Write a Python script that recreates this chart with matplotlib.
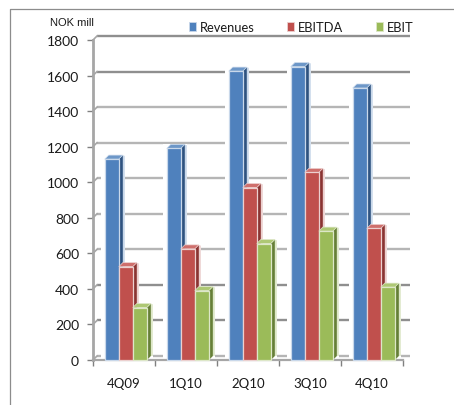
# modules
import matplotlib
matplotlib.use("Agg")
import matplotlib.pyplot as plt
from matplotlib.lines import Line2D
from matplotlib.patches import Polygon, Rectangle

plt.rcParams['font.family'] = ['Lato', 'DejaVu Sans']

# data
quarters = ["4Q09", "1Q10", "2Q10", "3Q10", "4Q10"]
revenues = [1130, 1190, 1625, 1650, 1530]
ebitda   = [525, 625, 970, 1055, 740]
ebit     = [295, 390, 655, 725, 410]
yticks   = [0, 200, 400, 600, 800, 1000, 1200, 1400, 1600, 1800]
dark_grid = [200, 400, 1600, 1800]

# settings
W, H = 454, 406
LEFT, RIGHT, TOP, BOTTOM = 93, 403, 41, 361
DEPTH_PX = 4
BAR_W = 0.226
GROUP_START = 0.19

STYLES = [
    ("Revenues", revenues, "#4f81bd", "#2f5380", "#6d97c8", "#c9d8ea"),
    ("EBITDA",   ebitda,   "#c0504d", "#8a3432", "#cf6f6c", "#ecd0cf"),
    ("EBIT",     ebit,     "#9bbb59", "#667f37", "#aec874", "#dde7c8"),
]

fig = plt.figure(figsize=(W / 100, H / 100), dpi=100, facecolor="white")
ax = fig.add_axes([LEFT / W, 1 - BOTTOM / H, (RIGHT - LEFT) / W, (BOTTOM - TOP) / H])
ax.set_xlim(0, len(quarters))
ax.set_ylim(0, 1800)

# pixel depth in data units
dx = DEPTH_PX / ((RIGHT - LEFT) / len(quarters))
dy = DEPTH_PX / ((BOTTOM - TOP) / 1800)

# back wall gridlines
for t in yticks:
    col = "#8f8f8f" if t in dark_grid else "#b5b5b5"
    ax.plot([dx, len(quarters) + dx * 1.7], [t + dy, t + dy], color=col, lw=1.7,
            solid_capstyle="butt", clip_on=False, zorder=1)
    ax.plot([0, dx], [t, t + dy], color="#a6a6a6", lw=1.2, clip_on=False, zorder=1)

# bars
for i in range(len(quarters)):
    for j, (name, vals, front, side, top, halo) in enumerate(STYLES):
        x0 = i + GROUP_START + j * BAR_W
        x1 = x0 + BAR_W
        v = vals[i]
        # white gap in the gridlines around the bar
        ax.add_patch(Rectangle((x0 - dx, 0), BAR_W + 2.5 * dx, v + dy, fc="white", ec="none",
                               zorder=2 + j * 0.1, clip_on=False))
        ax.add_patch(Polygon([(x1, 0), (x1 + dx, dy), (x1 + dx * 1.5, dy), (x1 + dx * 1.5, v + dy * 0.8), (x1 + dx, v + dy), (x1, v)],
                             fc=halo, ec="none", zorder=3 + j * 0.1, clip_on=False))
        ax.add_patch(Polygon([(x1, 0), (x1 + dx, dy), (x1 + dx, v + dy), (x1, v)],
                             fc=side, ec="none", zorder=3 + j * 0.1, clip_on=False))
        ax.add_patch(Polygon([(x0, v), (x0 + dx, v + dy), (x1 + dx, v + dy), (x1, v)],
                             fc=top, ec=halo, lw=0.5, zorder=3 + j * 0.1, clip_on=False))
        ax.bar(x0, v, BAR_W, align="edge", color=front, edgecolor=halo, linewidth=0.9,
               zorder=3.05 + j * 0.1, clip_on=False)

# axes
for s in ["top", "right"]:
    ax.spines[s].set_visible(False)
ax.spines["left"].set_color("#a6a6a6")
ax.spines["left"].set_linewidth(2)
ax.spines["bottom"].set_color("#a6a6a6")
ax.spines["bottom"].set_linewidth(1.6)
ax.set_yticks(yticks)
ax.set_xticks(range(len(quarters) + 1))
ax.set_xticklabels([])
ax.set_xticks([i + 0.5 for i in range(len(quarters))], quarters, minor=True)
ax.tick_params(axis="y", length=4, width=1, color="#808080", labelsize=10, labelcolor="#1a1a1a", pad=6)
ax.tick_params(axis="x", which="major", length=4, width=1, color="#808080")
ax.tick_params(axis="x", which="minor", length=0, labelsize=9.5, labelcolor="#1a1a1a", pad=12)

# legend
handles = [Rectangle((0, 0), 1, 1, fc=s[2], ec=s[5], lw=0.6) for s in STYLES]
fig.legend(handles, [s[0] for s in STYLES], ncol=3, frameon=False, fontsize=9.3,
           loc="center left", bbox_to_anchor=(189 / W, 1 - 28 / H), handlelength=0.55, handleheight=0.75,
           handletextpad=0.3, columnspacing=2.5, labelcolor="#1a1a1a", borderpad=0, borderaxespad=0)

fig.text(50 / W, 1 - 23 / H, "NOK mill", family=['Liberation Sans'], fontsize=8, color="#1a1a1a", va="center")

# outer border
fig.add_artist(Line2D([9.5 / W, 9.5 / W, 1], [0, 1 - 9.5 / H, 1 - 9.5 / H], color="#8c8c8c", lw=0.9))

fig.savefig("out.png", dpi=100)
